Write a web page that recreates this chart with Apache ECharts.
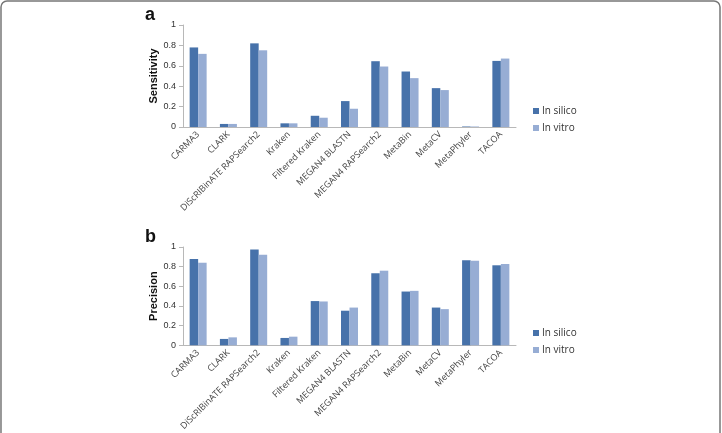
<!DOCTYPE html>
<html>
<head>
<meta charset="utf-8">
<script src="https://cdn.jsdelivr.net/npm/echarts@6/dist/echarts.min.js"></script>
<style>
  html, body { margin: 0; padding: 0; background: #fff; }
  #chart { width: 722px; height: 433px; }
</style>
</head>
<body>
<div id="chart"></div>
<script>
// tools compared
const tools = ['CARMA3', 'CLARK', 'DiScRIBinATE RAPSearch2', 'Kraken', 'Filtered Kraken',
  'MEGAN4 BLASTN', 'MEGAN4 RAPSearch2', 'MetaBin', 'MetaCV', 'MetaPhyler', 'TACOA']

// panel a - sensitivity
const sensSilico = [0.78, 0.03, 0.82, 0.036, 0.11, 0.254, 0.645, 0.544, 0.381, 0.005, 0.648]
const sensVitro = [0.717, 0.03, 0.752, 0.036, 0.091, 0.179, 0.593, 0.479, 0.362, 0.005, 0.671]

// panel b - precision
const precSilico = [0.879, 0.065, 0.974, 0.075, 0.45, 0.352, 0.733, 0.547, 0.384, 0.866, 0.814]
const precVitro = [0.84, 0.081, 0.922, 0.088, 0.446, 0.384, 0.759, 0.554, 0.368, 0.86, 0.827]

const seriesNames = ['In silico', 'In vitro']
const colors = ['#4772aa', '#97add4']

const chart = echarts.init(document.getElementById('chart'))

function xAxisCfg(idx) {
  return {
    type: 'category',
    gridIndex: idx,
    data: tools,
    axisLine: { lineStyle: { color: '#b8b8b8' } },
    axisTick: { length: 4, lineStyle: { color: '#b8b8b8' } },
    axisLabel: { rotate: 45, fontSize: 9, color: '#444', margin: 6, fontFamily: 'Open Sans', interval: 0 },
    splitLine: { show: false }
  }
}

function yAxisCfg(idx, name) {
  return {
    type: 'value',
    gridIndex: idx,
    min: 0,
    max: 1,
    interval: 0.2,
    name,
    nameLocation: 'middle',
    nameGap: 21,
    nameTextStyle: { fontSize: 11, fontWeight: 'bold', color: '#111', fontFamily: 'Liberation Sans' },
    axisLine: { show: true, lineStyle: { color: '#b8b8b8' } },
    axisTick: { show: true, length: 4, lineStyle: { color: '#b8b8b8' } },
    axisLabel: { fontSize: 9, color: '#333', margin: 7, fontFamily: 'Liberation Sans' },
    splitLine: { show: false }
  }
}

function bar(name, data, idx, color) {
  return {
    name,
    type: 'bar',
    xAxisIndex: idx,
    yAxisIndex: idx,
    data,
    barWidth: 8.5,
    barGap: '0%',
    itemStyle: { color },
    animation: false
  }
}

function legendCfg(idx, top) {
  return {
    orient: 'vertical',
    left: 528,
    top,
    itemWidth: 6,
    itemHeight: 6,
    itemGap: 7,
    icon: 'rect',
    data: seriesNames,
    textStyle: { fontSize: 10, color: '#333', padding: [0, 0, 0, -2], fontFamily: 'Open Sans' }
  }
}

chart.setOption({
  backgroundColor: '#fff',
  animation: false,
  graphic: [
    { type: 'rect', shape: { x: 1, y: 1, width: 719, height: 460, r: 6 },
      style: { fill: 'none', stroke: '#777', lineWidth: 1.5 } },
    { type: 'text', left: 145, top: 6, style: { text: 'a', font: 'bold 18px Liberation Sans', fill: '#111' } },
    { type: 'text', left: 145, top: 228, style: { text: 'b', font: 'bold 18px Liberation Sans', fill: '#111' } }
  ],
  grid: [
    { left: 183, right: 206, top: 25, height: 102 },
    { left: 183, right: 206, top: 247, height: 102 }
  ],
  xAxis: [xAxisCfg(0), xAxisCfg(1)],
  yAxis: [yAxisCfg(0, 'Sensitivity'), yAxisCfg(1, 'Precision')],
  legend: [legendCfg(0, 101), legendCfg(1, 323)],
  series: [
    bar(seriesNames[0], sensSilico, 0, colors[0]),
    bar(seriesNames[1], sensVitro, 0, colors[1]),
    bar(seriesNames[0], precSilico, 1, colors[0]),
    bar(seriesNames[1], precVitro, 1, colors[1])
  ]
})
</script>
</body>
</html>
